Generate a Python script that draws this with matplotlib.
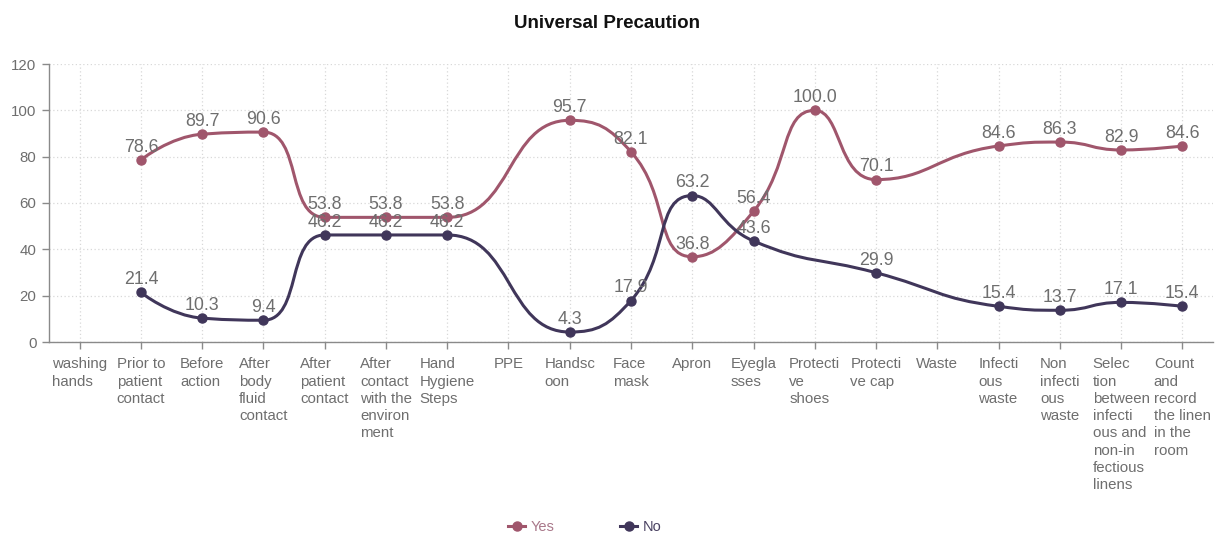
import math
import matplotlib
matplotlib.use("Agg")
import matplotlib.pyplot as plt
from matplotlib.path import Path
from matplotlib.patches import PathPatch
from matplotlib.lines import Line2D

plt.rcParams['font.family'] = ['Liberation Sans', 'DejaVu Sans']

title = "Universal Precaution"
categories = [
    "washing\nhands", "Prior to\npatient\ncontact", "Before\naction",
    "After\nbody\nfluid\ncontact", "After\npatient\ncontact",
    "After\ncontact\nwith the\nenviron\nment", "Hand\nHygiene\nSteps", "PPE",
    "Handsc\noon", "Face\nmask", "Apron", "Eyegla\nsses", "Protecti\nve\nshoes",
    "Protecti\nve cap", "Waste", "Infecti\nous\nwaste", "Non\ninfecti\nous\nwaste",
    "Selec\ntion\nbetween\ninfecti\nous and\nnon-in\nfectious\nlinens",
    "Count\nand\nrecord\nthe linen\nin the\nroom",
]
yes_values = [None, 78.6, 89.7, 90.6, 53.8, 53.8, 53.8, None, 95.7, 82.1, 36.8,
              56.4, 100.0, 70.1, None, 84.6, 86.3, 82.9, 84.6]
no_values = [None, 21.4, 10.3, 9.4, 46.2, 46.2, 46.2, None, 4.3, 17.9, 63.2,
             43.6, None, 29.9, None, 15.4, 13.7, 17.1, 15.4]
series_names = ["Yes", "No"]
y_ticks = [0, 20, 40, 60, 80, 100, 120]

YES_COLOR = "#a0566c"
NO_COLOR = "#40365a"
LABEL_COLOR = "#6e6e6e"

W, H = 1220, 537
fig = plt.figure(figsize=(W / 100, H / 100), dpi=100)
left, right, top, bottom = 49, 1213, 64, 342
ax = fig.add_axes([left / W, 1 - bottom / H, (right - left) / W, (bottom - top) / H])

n = len(categories)
ax.set_xlim(-0.5, n - 0.5)
ax.set_ylim(0, 120)

# pixel scale factors (for echarts-like smoothing in screen space)
sx = (right - left) / n
sy = (bottom - top) / 120.0


def echarts_smooth_path(xs, ys, smooth=0.5):
    P = [(x * sx, y * sy) for x, y in zip(xs, ys)]
    verts = [P[0]]
    codes = [Path.MOVETO]
    cpx0, cpy0 = P[0]
    m = len(P)
    for i in range(1, m):
        x, y = P[i]
        prevX, prevY = P[i - 1]
        nextCpx0, nextCpy0 = x, y
        if i == m - 1:
            cpx1, cpy1 = x, y
        else:
            nextX, nextY = P[i + 1]
            vx = nextX - prevX
            vy = nextY - prevY
            dx0, dx1 = x - prevX, nextX - x
            dy0, dy1 = y - prevY, nextY - y
            lp = math.hypot(dx0, dy0)
            ln = math.hypot(dx1, dy1)
            r = ln / (ln + lp)
            nextCpx0 = x + vx * smooth * r
            nextCpy0 = y + vy * smooth * r
            nextCpx0 = min(nextCpx0, max(nextX, x))
            nextCpy0 = min(nextCpy0, max(nextY, y))
            nextCpx0 = max(nextCpx0, min(nextX, x))
            nextCpy0 = max(nextCpy0, min(nextY, y))
            vx = nextCpx0 - x
            vy = nextCpy0 - y
            cpx1 = x - vx * lp / ln
            cpy1 = y - vy * lp / ln
            cpx1 = min(cpx1, max(prevX, x))
            cpy1 = min(cpy1, max(prevY, y))
            cpx1 = max(cpx1, min(prevX, x))
            cpy1 = max(cpy1, min(prevY, y))
            vx = x - cpx1
            vy = y - cpy1
            nextCpx0 = x + vx * ln / lp
            nextCpy0 = y + vy * ln / lp
        verts += [(cpx0, cpy0), (cpx1, cpy1), (x, y)]
        codes += [Path.CURVE4] * 3
        cpx0, cpy0 = nextCpx0, nextCpy0
    verts = [(vx_ / sx, vy_ / sy) for vx_, vy_ in verts]
    return Path(verts, codes)


for vals, color in [(yes_values, YES_COLOR), (no_values, NO_COLOR)]:
    xs = [i for i, v in enumerate(vals) if v is not None]
    ys = [v for v in vals if v is not None]
    path = echarts_smooth_path(xs, ys)
    ax.add_patch(PathPatch(path, facecolor="none", edgecolor=color, lw=2.2,
                           zorder=3, capstyle="round", joinstyle="round"))
    ax.plot(xs, ys, linestyle="none", marker="o", ms=6.5, color=color, zorder=4)
    for x, y in zip(xs, ys):
        ax.annotate(f"{y:.1f}", (x, y), xytext=(0, 3), textcoords="offset points",
                    ha="center", va="bottom", fontsize=12.8, color=LABEL_COLOR,
                    zorder=5)

ax.set_xticks(range(n))
ax.set_xticklabels(categories, fontsize=10.8, color=LABEL_COLOR,
                   linespacing=1.3, va="top", multialignment="left")
ax.set_yticks(y_ticks)
ax.set_yticklabels([str(t) for t in y_ticks], fontsize=10.8, color=LABEL_COLOR)

ax.grid(True, linestyle=(0, (1, 2)), color="#d8d8d8", lw=0.9)
ax.set_axisbelow(True)
for s in ["top", "right"]:
    ax.spines[s].set_visible(False)
for s in ["left", "bottom"]:
    ax.spines[s].set_color("#8a8a8a")
    ax.spines[s].set_linewidth(1.0)
ax.tick_params(axis="x", length=5, width=1, color="#8a8a8a", pad=6)
ax.tick_params(axis="y", length=5, width=1, color="#8a8a8a", pad=4)

fig.text(607 / W, 1 - 23 / H, title, ha="center", va="center",
         fontsize=13.5, fontweight="bold", color="#111111")

handles = [Line2D([0], [0], color=YES_COLOR, lw=2.2, marker="o", ms=6.5),
           Line2D([0], [0], color=NO_COLOR, lw=2.2, marker="o", ms=6.5)]
leg = fig.legend(handles, series_names, loc="center", ncol=2,
                 bbox_to_anchor=(585 / W, 1 - 527 / H), frameon=False,
                 fontsize=10.5, handlelength=1.15, handletextpad=0.4,
                 columnspacing=4.5)
leg.get_texts()[0].set_color("#a9788a")
leg.get_texts()[1].set_color("#4a4262")

fig.savefig("out.png", dpi=100)
